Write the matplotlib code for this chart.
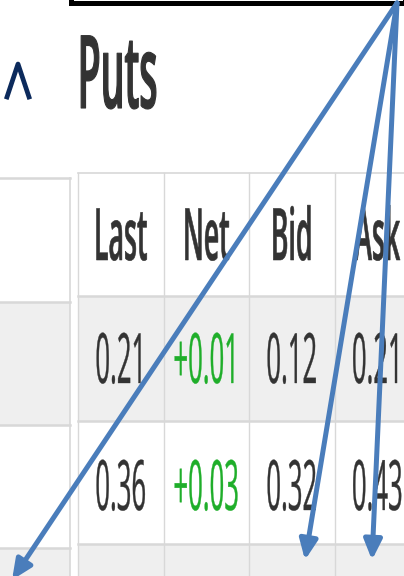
import matplotlib
matplotlib.use("Agg")
import matplotlib.pyplot as plt
from matplotlib.patches import Rectangle
from matplotlib.patheffects import AbstractPathEffect
from matplotlib.transforms import Affine2D

# table content
title = "Puts"
headers = ["Last", "Net", "Bid", "Ask"]
last = [0.21, 0.36]
net = [0.01, 0.03]
bid = [0.12, 0.32]
ask = [0.21, 0.43]

# callout arrows (pixel coords of the screenshot)
arrow_start = (397, 3)
arrow_ends = [(12, 580), (305, 560), (372, 560)]

SX = 0.37  # the screenshot is squashed horizontally -> tall narrow glyphs


class Tall(AbstractPathEffect):
    # stretch the glyphs upwards from the baseline, optionally thicken them
    def __init__(self, sy=1 / SX, lw=0.0):
        super().__init__()
        self.sy = sy
        self.lw = lw

    def draw_path(self, renderer, gc, tpath, affine, rgbFace=None):
        by = affine.transform([[0.0, 0.0]])[0, 1]
        t = affine + Affine2D().translate(0, -by).scale(1, self.sy).translate(0, by)
        gc0 = renderer.new_gc()
        gc0.copy_properties(gc)
        gc0.set_linewidth(self.lw)
        gc0.set_joinstyle("round")
        renderer.draw_path(gc0, tpath, t, rgbFace)
        gc0.restore()


def put_text(ax, x, y, s, size, lw=0.0, **kw):
    # size = visible glyph height in points
    return ax.text(x, y, s, ha="center", va="baseline", fontsize=size * SX,
                   path_effects=[Tall(1 / SX, lw)], **kw)


plt.rcParams["font.family"] = ["Open Sans", "DejaVu Sans"]
fig = plt.figure(figsize=(4.04, 5.76), dpi=100)
ax = fig.add_axes([0, 0, 1, 1])
ax.set_xlim(0, 404)
ax.set_ylim(576, 0)
ax.axis("off")

grey = "#efefef"
line_c = "#d8d8d8"
txt_c = "#333333"
green = "#1fae2a"

# left (calls) panel
left_rows = [178, 302, 425, 548, 672]
for i in range(len(left_rows) - 1):
    fc = grey if i % 2 == 1 else "white"
    ax.add_patch(Rectangle((-2, left_rows[i]), 72, left_rows[i + 1] - left_rows[i],
                           facecolor=fc, edgecolor="none", zorder=1))
    ax.plot([-2, 70], [left_rows[i], left_rows[i]], color=line_c, lw=1.8, zorder=2)
ax.plot([70, 70], [178, 580], color=line_c, lw=1.2, zorder=2)

# puts table
x0, cw = 78, 85.5
rows = [173, 296, 421, 544, 669]
for i in range(len(rows) - 1):
    fc = grey if i % 2 == 1 else "white"
    ax.add_patch(Rectangle((x0, rows[i]), cw * 4, rows[i + 1] - rows[i],
                           facecolor=fc, edgecolor="none", zorder=1))
    ax.plot([x0, x0 + cw * 4], [rows[i], rows[i]], color=line_c,
            lw=1.2 if i == 0 else 1.8, zorder=2)
for j in range(5):
    ax.plot([x0 + j * cw] * 2, [rows[0], 580], color=line_c, lw=1.0, zorder=2)

for j, h in enumerate(headers):
    put_text(ax, x0 + (j + 0.5) * cw, 260, h, 52, lw=0.4,
             fontweight="semibold", color=txt_c, zorder=3)

body_base = [383, 510]
for r in range(len(last)):
    cells = [(f"{last[r]:.2f}", txt_c), (f"{net[r]:+.2f}", green),
             (f"{bid[r]:.2f}", txt_c), (f"{ask[r]:.2f}", txt_c)]
    for j, (s, c) in enumerate(cells):
        put_text(ax, x0 + (j + 0.5) * cw, body_base[r], s, 50, lw=0.25,
                 color=c, zorder=3)

# heading and collapse caret
put_text(ax, 117.5, 108, title, 73, lw=0.8, fontweight="semibold",
         color=txt_c, zorder=3)
ax.plot([7, 18, 29], [97, 64, 97], color="#0c2a5c", lw=3.4, zorder=3)

# black frame edge at the top
ax.add_patch(Rectangle((71, -60), 334, 62.5, facecolor="none",
                       edgecolor="black", lw=3.6, zorder=5))

for end in arrow_ends:
    ax.annotate("", xy=end, xytext=arrow_start, annotation_clip=False,
                arrowprops=dict(arrowstyle="-|>,head_length=0.6,head_width=0.27",
                                color="#4a7dbb", lw=3.6, mutation_scale=20,
                                shrinkA=0, shrinkB=0),
                zorder=6)

fig.savefig("out.png", dpi=100)
